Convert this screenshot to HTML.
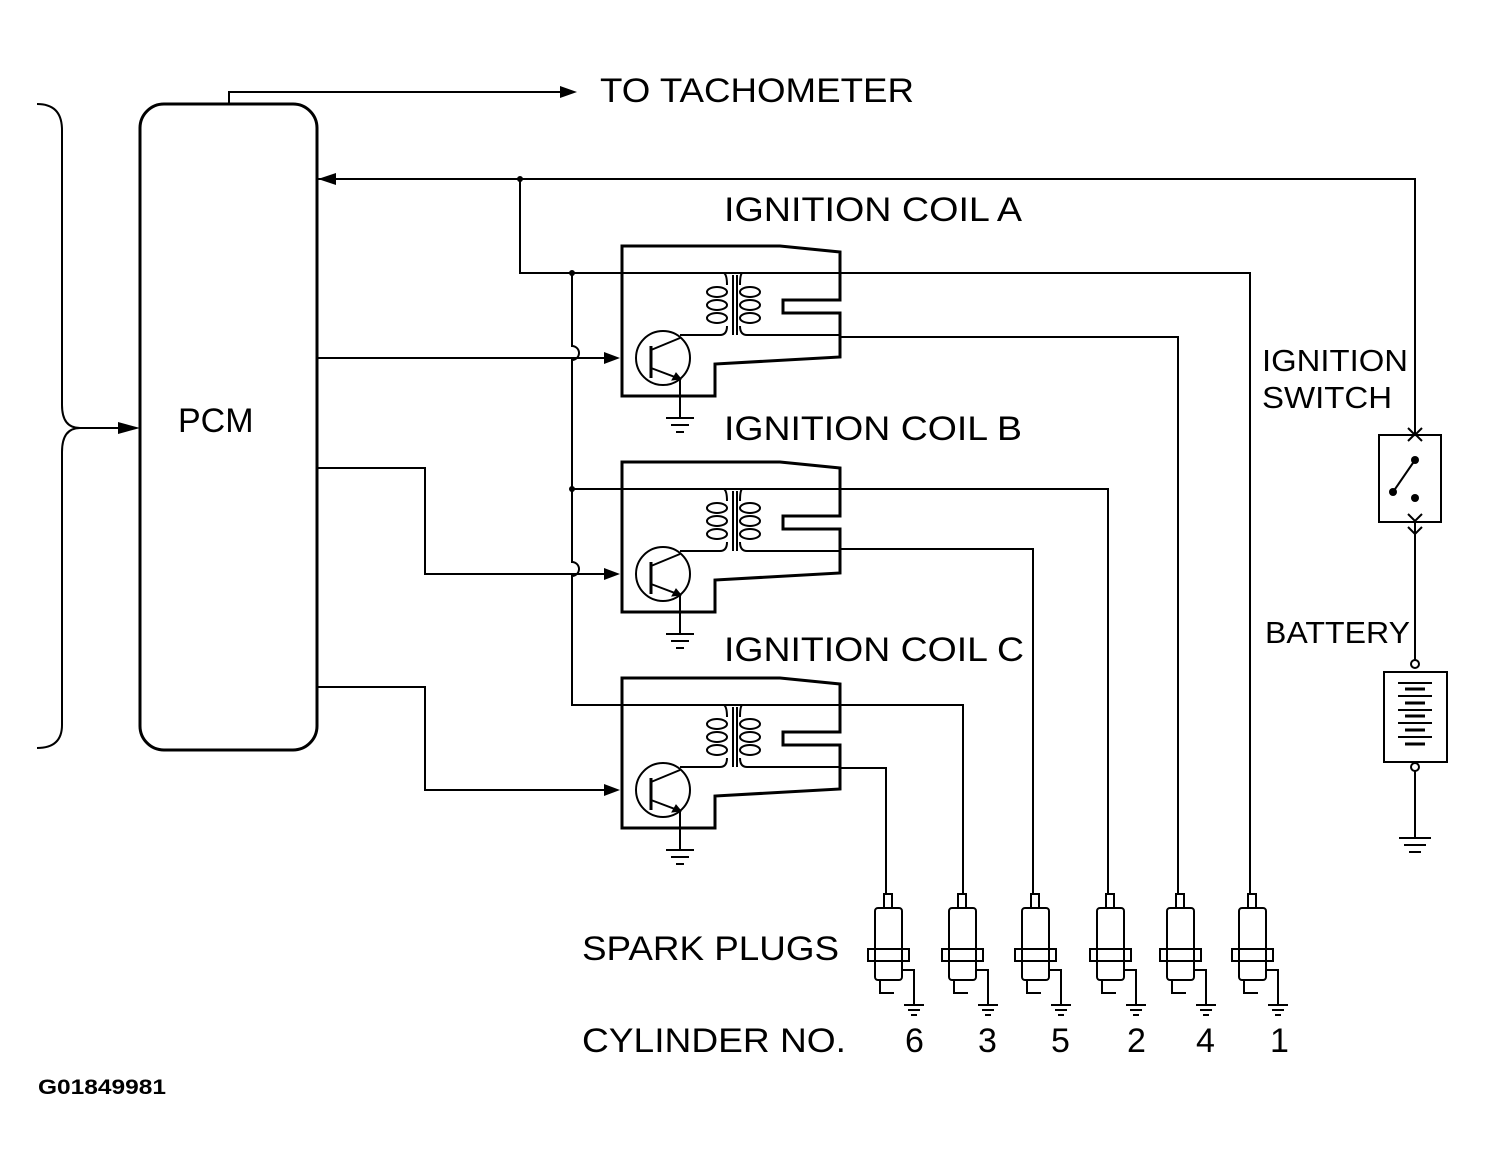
<!DOCTYPE html>
<html><head><style>html,body{margin:0;padding:0;background:#fff}svg{display:block}text{font-family:"Liberation Sans",sans-serif;fill:#000}</style></head>
<body>
<svg width="1485" height="1171" viewBox="0 0 1485 1171" xmlns="http://www.w3.org/2000/svg">
<defs>
<g id="coil" fill="none" stroke="#000">
  <path d="M622,246 H780 L840,252 V300 H783 V313 H840 V357 L715,364 V396 H622 Z" stroke-width="3"/>
  <path d="M724,273 Q727,275 727,285 M727,326 Q727,335 720,335 H680" stroke-width="2"/>
  <ellipse cx="717" cy="292" rx="10" ry="5" stroke-width="2"/>
  <ellipse cx="717" cy="305" rx="10" ry="5" stroke-width="2"/>
  <ellipse cx="717" cy="318" rx="10" ry="5" stroke-width="2"/>
  <ellipse cx="750" cy="292" rx="10" ry="5" stroke-width="2"/>
  <ellipse cx="750" cy="305" rx="10" ry="5" stroke-width="2"/>
  <ellipse cx="750" cy="318" rx="10" ry="5" stroke-width="2"/>
  <path d="M742,273 Q740,275 740,285 M740,326 Q740,335 747,335 H840" stroke-width="2"/>
  <path d="M733,275 V335 M737,275 V335" stroke-width="2"/>
  <circle cx="663" cy="358" r="27" stroke-width="2"/>
  <path d="M651,346 V378" stroke-width="3"/>
  <path d="M651,350 L680,338 M651,368 L680,379 V418" stroke-width="2"/>
  <path d="M676,373 L681,379 L672,380 Z" fill="#000" stroke-width="1"/>
  <path d="M666,418 H694 M671,425 H689 M676,432 H684" stroke-width="2"/>
  <path d="M604,352 L620,358 L604,364 Z" fill="#000" stroke="none"/>
</g>
<g id="plug" fill="none" stroke="#000" stroke-width="2">
  <rect x="-4" y="894" width="8" height="14"/>
  <rect x="-13" y="908" width="27" height="72" rx="3"/>
  <rect x="-20" y="949" width="41" height="12"/>
  <path d="M-8,980 V993 H6"/>
  <path d="M14,970 H26 V1005 M16,1005 H36 M20,1010 H32 M23,1015 H29"/>
</g>
</defs>
<g fill="none" stroke="#000" stroke-width="2">
  <!-- PCM -->
  <rect x="140" y="104" width="177" height="646" rx="24" stroke-width="3"/>
  <path d="M37,104 Q62,104 62,130 V405 Q62,428 80,428 H125 M80,428 Q62,428 62,452 V725 Q62,748 37,748"/>
  <path d="M229,104 V92 H560"/>
  <path d="M318,179 H1415 V435"/>
  <path d="M520,179 V273 H1250 V895"/>
  <path d="M572,273 V346 A7,7 0 0 1 572,360 V562 A7,7 0 0 1 572,576 V705 H963 V895"/>
  <path d="M572,489 H1108 V895"/>
  <path d="M840,337 H1178 V895"/>
  <path d="M840,549 H1033 V895"/>
  <path d="M840,768 H886 V895"/>
  <path d="M318,358 H606"/>
  <path d="M318,468 H425 V574 H606"/>
  <path d="M318,687 H425 V790 H606"/>
  <!-- switch -->
  <rect x="1379" y="435" width="62" height="87"/>
  <path d="M1415,522 V660 M1415,771 V838 M1399,838 H1431 M1404,845 H1426 M1409,852 H1421"/>
  <path d="M1408,428 L1415,435 L1422,428 M1408,441 L1415,434 L1422,441 M1408,514 L1415,521 L1422,514 M1408,527 L1415,534 L1422,527"/>
  <path d="M1415,460 L1393,492"/>
  <rect x="1384" y="672" width="63" height="90"/>
  <circle cx="1415" cy="664" r="4"/>
  <circle cx="1415" cy="767" r="4"/>
  <path d="M1398,683 H1432 M1398,696 H1432 M1398,710 H1432 M1398,723 H1432 M1398,737 H1432" />
  <path d="M1405,689 H1425 M1405,703 H1425 M1405,716 H1425 M1405,730 H1425 M1405,744 H1425" stroke-width="3"/>
</g>
<g fill="#000">
  <path d="M560,86 L577,92 L560,98 Z"/>
  <path d="M318,179 L336,173 L336,185 Z"/>
  <path d="M118,422 L140,428 L118,434 Z"/>
  <circle cx="520" cy="179" r="3"/>
  <circle cx="572" cy="273" r="3"/>
  <circle cx="572" cy="489" r="3"/>
  <circle cx="1415" cy="460" r="4"/>
  <circle cx="1415" cy="498" r="4"/>
  <circle cx="1393" cy="492" r="4"/>
</g>
<use href="#coil"/>
<use href="#coil" transform="translate(0,216)"/>
<use href="#coil" transform="translate(0,432)"/>
<use href="#plug" transform="translate(888,0)"/>
<use href="#plug" transform="translate(962,0)"/>
<use href="#plug" transform="translate(1035,0)"/>
<use href="#plug" transform="translate(1110,0)"/>
<use href="#plug" transform="translate(1180,0)"/>
<use href="#plug" transform="translate(1252,0)"/>
<g font-size="34">
  <text x="600" y="102" textLength="314" lengthAdjust="spacingAndGlyphs">TO TACHOMETER</text>
  <text x="178" y="432">PCM</text>
  <text x="724" y="221" textLength="298" lengthAdjust="spacingAndGlyphs">IGNITION COIL A</text>
  <text x="724" y="440" textLength="298" lengthAdjust="spacingAndGlyphs">IGNITION COIL B</text>
  <text x="724" y="661" textLength="300" lengthAdjust="spacingAndGlyphs">IGNITION COIL C</text>
  <text x="1262" y="371" font-size="31" textLength="146" lengthAdjust="spacingAndGlyphs">IGNITION</text>
  <text x="1262" y="408" font-size="31" textLength="130" lengthAdjust="spacingAndGlyphs">SWITCH</text>
  <text x="1265" y="643" font-size="31" textLength="145" lengthAdjust="spacingAndGlyphs">BATTERY</text>
  <text x="582" y="960" textLength="257" lengthAdjust="spacingAndGlyphs">SPARK PLUGS</text>
  <text x="582" y="1052" textLength="264" lengthAdjust="spacingAndGlyphs">CYLINDER NO.</text>
  <text x="905" y="1052">6</text>
  <text x="978" y="1052">3</text>
  <text x="1051" y="1052">5</text>
  <text x="1127" y="1052">2</text>
  <text x="1196" y="1052">4</text>
  <text x="1270" y="1052">1</text>
  <text x="38" y="1094" font-size="21" font-weight="bold" textLength="128" lengthAdjust="spacingAndGlyphs">G01849981</text>
</g>
</svg>
</body></html>
